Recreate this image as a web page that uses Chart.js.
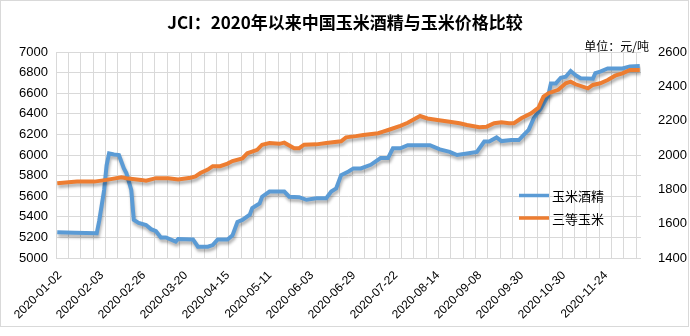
<!DOCTYPE html>
<html>
<head>
<meta charset="utf-8">
<script src="https://cdn.jsdelivr.net/npm/chart.js@4.4.0/dist/chart.umd.min.js"></script>
<style>
  body { margin: 0; background: #fff; }
  #wrap { position: relative; width: 690px; height: 336px; }
  canvas { display: block; }
  .date-tick {
    position: absolute;
    font: 12px "Liberation Sans", sans-serif;
    line-height: 14px;
    color: #000;
    white-space: nowrap;
    transform-origin: 100% 50%;
    transform: rotate(-45deg);
  }
</style>
</head>
<body>
<div id="wrap"><canvas id="priceChart" width="690" height="336"></canvas></div>
<script>
// trading-day axis: one slot per trading day, a date label every 17 days
const dayCount = 237;
const labelEvery = 17;
const gridEvery = 5;
const dateLabels = ['2020-01-02', '2020-02-03', '2020-02-26', '2020-03-20', '2020-04-15',
  '2020-05-11', '2020-06-03', '2020-06-29', '2020-07-22', '2020-08-14',
  '2020-09-08', '2020-09-30', '2020-10-30', '2020-11-24'];

// 玉米酒精 (left axis, 元/吨)
const ethanolDays = [0, 7, 16, 17, 19, 20, 21, 23, 25, 27,
  28, 30, 31, 33, 36, 38, 40, 42, 44, 48,
  49, 55, 57, 61, 63, 65, 69, 71, 73, 75,
  78, 79, 81, 82, 83, 86, 92, 94, 98, 101,
  105, 109, 111, 113, 115, 118, 120, 123, 127, 131,
  134, 136, 139, 142, 151, 155, 159, 162, 166, 170,
  173, 175, 178, 180, 184, 187, 189, 191, 193, 196,
  199, 200, 202, 204, 206, 208, 210, 212, 217, 218,
  220, 223, 229, 232, 236];
const ethanolPrice = [5250, 5245, 5240, 5360, 5660, 5900, 6015, 6005, 6000, 5870,
  5825, 5660, 5370, 5340, 5320, 5280, 5260, 5200, 5200, 5160,
  5185, 5180, 5110, 5110, 5125, 5180, 5180, 5220, 5350, 5370,
  5420, 5485, 5515, 5530, 5595, 5645, 5645, 5595, 5590, 5565,
  5580, 5580, 5645, 5675, 5805, 5840, 5870, 5870, 5905, 5970,
  5970, 6065, 6065, 6095, 6095, 6055, 6030, 6000, 6015, 6030,
  6130, 6130, 6170, 6135, 6145, 6145, 6195, 6245, 6355, 6455,
  6585, 6695, 6695, 6750, 6760, 6815, 6775, 6745, 6740, 6795,
  6810, 6840, 6840, 6860, 6865];

// 三等玉米 (right axis, 元/吨)
const cornDays = [0, 8, 15, 20, 26, 28, 34, 36, 40, 45,
  49, 54, 56, 58, 61, 63, 66, 69, 71, 75,
  77, 81, 83, 86, 90, 92, 96, 98, 100, 105,
  109, 115, 117, 121, 124, 130, 132, 135, 139, 142,
  144, 147, 150, 154, 159, 163, 166, 171, 174, 177,
  180, 183, 185, 188, 192, 195, 197, 199, 203, 206,
  208, 210, 215, 217, 220, 223, 226, 229, 232, 236];
const cornPrice = [1835, 1845, 1845, 1855, 1870, 1865, 1855, 1850, 1865, 1865,
  1858, 1868, 1875, 1895, 1915, 1935, 1935, 1950, 1965, 1980,
  2010, 2030, 2060, 2070, 2065, 2072, 2040, 2040, 2060, 2062,
  2070, 2080, 2103, 2110, 2117, 2127, 2136, 2150, 2170, 2188,
  2204, 2227, 2213, 2204, 2194, 2185, 2175, 2162, 2165, 2185,
  2190, 2185, 2185, 2214, 2243, 2276, 2340, 2360, 2380, 2418,
  2427, 2412, 2388, 2408, 2418, 2437, 2462, 2476, 2495, 2495];

const seriesNames = ['玉米酒精', '三等玉米'];
const seriesColors = ['#5b9bd5', '#ed7d31'];

// grid ticks sit on the day boundaries, every 5 days
const xTicks = [];
for (let k = 0; k * gridEvery - 0.5 < dayCount - 1; k++) xTicks.push(k * gridEvery - 0.5);

const toPoints = (days, values) => days.map((d, i) => ({ x: d, y: values[i] }));

const tickFont = { family: '"Liberation Sans", "Noto Sans CJK SC"', size: 13 };
const cjk = '"Noto Sans CJK SC"';

// soft drop shadow under each line
const lineShadow = {
  id: 'lineShadow',
  beforeDatasetDraw(chart) {
    const ctx = chart.ctx;
    ctx.save();
    ctx.shadowColor = 'rgba(0,0,0,0.3)';
    ctx.shadowBlur = 3;
    ctx.shadowOffsetX = 1;
    ctx.shadowOffsetY = 3;
  },
  afterDatasetDraw(chart) {
    chart.ctx.restore();
  }
};

// slanted date labels, placed from the x scale after each render
const dateTicks = {
  id: 'dateTicks',
  afterRender(chart) {
    const wrap = document.getElementById('wrap');
    wrap.querySelectorAll('.date-tick').forEach(el => el.remove());
    const xScale = chart.scales.x;
    const bottom = chart.chartArea.bottom;
    dateLabels.forEach((d, j) => {
      const x = xScale.getPixelForValue(j * labelEvery);
      const el = document.createElement('span');
      el.className = 'date-tick';
      el.textContent = d;
      el.style.right = (chart.width - (x + 2.5)) + 'px';
      el.style.top = (bottom + 15 - 7) + 'px';
      wrap.appendChild(el);
    });
  }
};

// title, unit note, inner legend and frame
const decorations = {
  id: 'decorations',
  afterDraw(chart) {
    const ctx = chart.ctx;
    ctx.save();
    ctx.strokeStyle = '#d9d9d9';
    ctx.lineWidth = 1;
    ctx.strokeRect(0.5, 0.5, 688, 326);

    ctx.fillStyle = '#000';
    ctx.textBaseline = 'middle';
    ctx.textAlign = 'center';
    ctx.font = 'bold 17px ' + cjk;
    ctx.fillText('JCI：2020年以来中国玉米酒精与玉米价格比较', 345, 23);

    ctx.textAlign = 'right';
    ctx.font = '12px ' + cjk;
    ctx.fillText('单位：元/吨', 649, 46);

    ctx.textAlign = 'left';
    ctx.font = '13px ' + cjk;
    [195.5, 218].forEach((y, i) => {
      ctx.strokeStyle = seriesColors[i];
      ctx.lineWidth = 3.5;
      ctx.beginPath();
      ctx.moveTo(519, y);
      ctx.lineTo(549, y);
      ctx.stroke();
      ctx.fillText(seriesNames[i], 552, y + 1);
    });
    ctx.restore();
  }
};

new Chart(document.getElementById('priceChart'), {
  type: 'line',
  data: {
    datasets: [
      {
        label: seriesNames[0],
        data: toPoints(ethanolDays, ethanolPrice),
        yAxisID: 'y',
        borderColor: seriesColors[0],
        borderWidth: 4,
        pointRadius: 0,
        tension: 0,
        order: 1
      },
      {
        label: seriesNames[1],
        data: toPoints(cornDays, cornPrice),
        yAxisID: 'y1',
        borderColor: seriesColors[1],
        borderWidth: 4,
        pointRadius: 0,
        tension: 0,
        order: 0
      }
    ]
  },
  options: {
    responsive: false,
    animation: false,
    layout: { padding: { top: 52, left: 0, right: 0, bottom: 0 } },
    plugins: {
      legend: { display: false },
      title: { display: false },
      tooltip: { enabled: false }
    },
    scales: {
      x: {
        type: 'linear',
        min: -0.5,
        max: dayCount - 0.5,
        afterBuildTicks: scale => { scale.ticks = xTicks.map(v => ({ value: v })); },
        afterFit: scale => { scale.height = 78; },
        ticks: { autoSkip: false, callback: () => '' },
        grid: { drawTicks: false, color: '#d9d9d9' },
        border: { display: false }
      },
      y: {
        position: 'left',
        min: 5000,
        max: 7000,
        afterFit: scale => { scale.width = 56; },
        ticks: { stepSize: 200, padding: 8, color: '#000', font: tickFont, callback: v => String(v) },
        grid: { drawTicks: false, color: '#d9d9d9' },
        border: { display: false }
      },
      y1: {
        position: 'right',
        min: 1400,
        max: 2600,
        afterFit: scale => { scale.width = 49; },
        ticks: { stepSize: 200, padding: 9, color: '#000', font: tickFont, callback: v => String(v) },
        grid: { display: false },
        border: { display: false }
      }
    }
  },
  plugins: [lineShadow, dateTicks, decorations]
});
</script>
</body>
</html>
